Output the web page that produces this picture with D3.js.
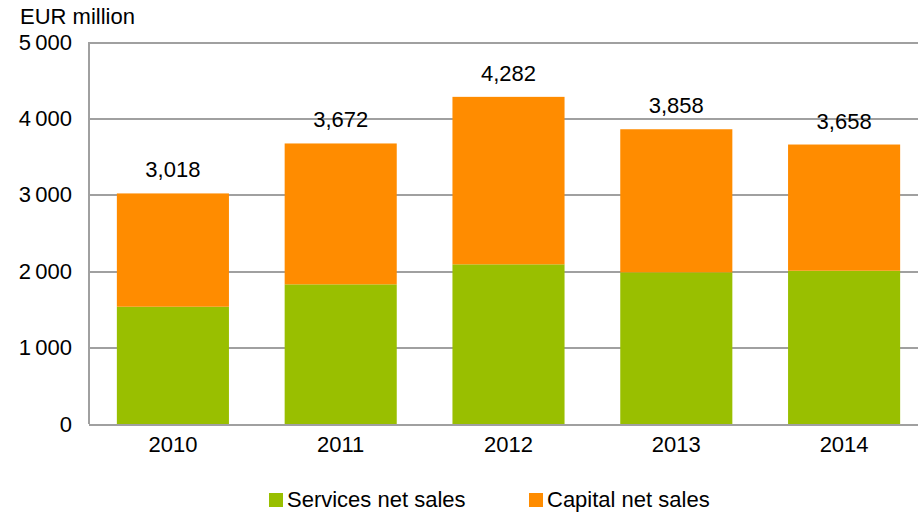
<!DOCTYPE html>
<head>
    <meta charset="utf-8">
    <style>
        body { margin: 0; background: #fff; }
        svg { font-family: 'Liberation Sans', Arial, sans-serif; }
        .axis .domain { display: none; }
        .axis text { font-size: 22px; fill: #000; }
        .grid line { stroke: #a0a0a0; stroke-width: 2px; shape-rendering: crispEdges; }
        .grid .domain { display: none; }
        .total { font-size: 22px; fill: #000; }
        .legend text { font-size: 22px; fill: #000; }
    </style>
</head>
<body>
    <div id="chart"></div>
    <script src="https://d3js.org/d3.v7.min.js"></script>
    <script>
        // values, EUR million
        var years = ["2010", "2011", "2012", "2013", "2014"];
        var services = [1535, 1828, 2090, 1985, 2006];
        var capital = [1483, 1844, 2192, 1873, 1652];
        var totals = [3018, 3672, 4282, 3858, 3658];
        var yTicks = [0, 1000, 2000, 3000, 4000, 5000];
        var seriesNames = ["Services net sales", "Capital net sales"];
        var colors = ["#99bf00", "#ff8c00"];

        var width = 918, height = 514;
        var margin = {top: 42, right: -10, bottom: 90, left: 89};

        var svg = d3.select("#chart").append("svg")
            .attr("width", width)
            .attr("height", height);

        var x = d3.scaleBand()
            .domain(years)
            .range([margin.left, width - margin.right])
            .paddingInner(0.332)
            .paddingOuter(0.166);

        var y = d3.scaleLinear()
            .domain([0, 5000])
            .range([height - margin.bottom, margin.top]);

        var fmtTick = function(d) { return d3.format(",")(d).replace(",", "\u2009"); };

        // gridlines
        svg.append("g")
            .attr("class", "grid")
            .attr("transform", "translate(" + margin.left + ",0)")
            .call(d3.axisRight(y).tickValues(yTicks).tickSize(width - margin.left).tickFormat(""));

        // y axis line
        svg.append("line")
            .attr("x1", margin.left).attr("x2", margin.left)
            .attr("y1", y(5000)).attr("y2", y(0))
            .attr("stroke", "#a0a0a0").attr("stroke-width", 2)
            .attr("shape-rendering", "crispEdges");

        var data = years.map(function(yr, i) {
            return {year: yr, services: services[i], capital: capital[i]};
        });
        var stack = d3.stack().keys(["services", "capital"])(data);

        svg.selectAll(".series")
            .data(stack)
            .enter().append("g")
            .attr("class", "series")
            .attr("fill", function(d, i) { return colors[i]; })
            .selectAll("rect")
            .data(function(d) { return d; })
            .enter().append("rect")
            .attr("x", function(d) { return x(d.data.year); })
            .attr("y", function(d) { return y(d[1]); })
            .attr("width", x.bandwidth())
            .attr("height", function(d) { return y(d[0]) - y(d[1]); });

        // totals above bars
        svg.selectAll(".total")
            .data(years)
            .enter().append("text")
            .attr("class", "total")
            .attr("x", function(d) { return x(d) + x.bandwidth() / 2; })
            .attr("y", function(d, i) { return y(totals[i]) - 16; })
            .attr("text-anchor", "middle")
            .text(function(d, i) { return d3.format(",")(totals[i]); });

        // y axis labels
        svg.append("g")
            .attr("class", "axis")
            .attr("transform", "translate(" + margin.left + ",0)")
            .call(d3.axisLeft(y).tickValues(yTicks).tickSize(0).tickPadding(17).tickFormat(fmtTick));

        // x axis labels
        svg.append("g")
            .attr("class", "axis")
            .attr("transform", "translate(0," + (height - margin.bottom) + ")")
            .call(d3.axisBottom(x).tickSize(0).tickPadding(12));

        svg.append("text")
            .attr("x", 20).attr("y", 24)
            .attr("font-size", "22px")
            .text("EUR million");

        // legend
        var legendX = [269, 529];
        var legend = svg.append("g").attr("class", "legend");
        var items = legend.selectAll("g")
            .data(seriesNames)
            .enter().append("g")
            .attr("transform", function(d, i) { return "translate(" + legendX[i] + ",493)"; });
        items.append("rect")
            .attr("width", 14).attr("height", 14)
            .attr("fill", function(d, i) { return colors[i]; });
        items.append("text")
            .attr("x", 18).attr("y", 14)
            .text(function(d) { return d; });
    </script>
</body>
